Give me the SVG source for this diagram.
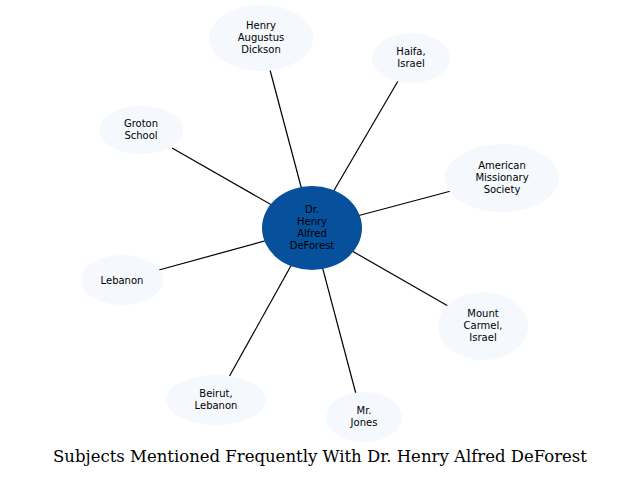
<svg xmlns="http://www.w3.org/2000/svg" width="641" height="478" viewBox="0 0 641 478">
<style>
.n{fill:#f5f8fd}
.t{font-family:"DejaVu Sans",sans-serif;font-size:10px;fill:#000;text-anchor:middle}
.e line{stroke:#000;stroke-width:1.2}
</style>
<rect width="641" height="478" fill="#fff"/>
<g class="e" id="connectors">
<line x1="312" y1="228" x2="270" y2="70"/>
<line x1="312" y1="228" x2="398" y2="81"/>
<line x1="312" y1="228" x2="172" y2="148"/>
<line x1="312" y1="228" x2="451" y2="191"/>
<line x1="312" y1="228" x2="159" y2="270"/>
<line x1="312" y1="228" x2="448" y2="306"/>
<line x1="312" y1="228" x2="229" y2="377"/>
<line x1="312" y1="228" x2="356" y2="394"/>
</g>
<g id="center"><ellipse cx="312" cy="228" rx="50" ry="42" fill="#06509c"/>
<text class="t" x="312" y="213">Dr.</text><text class="t" x="312" y="225">Henry</text><text class="t" x="312" y="237">Alfred</text><text class="t" x="312" y="249">DeForest</text></g>
<g id="dickson"><ellipse class="n" cx="261" cy="38" rx="52" ry="33"/>
<text class="t" x="261" y="29">Henry</text><text class="t" x="261" y="41">Augustus</text><text class="t" x="261" y="53">Dickson</text></g>
<g id="haifa"><ellipse class="n" cx="411" cy="58" rx="39" ry="25"/>
<text class="t" x="411" y="55">Haifa,</text><text class="t" x="411" y="67">Israel</text></g>
<g id="groton"><ellipse class="n" cx="141" cy="130" rx="42" ry="24"/>
<text class="t" x="141" y="127">Groton</text><text class="t" x="141" y="139">School</text></g>
<g id="ams"><ellipse class="n" cx="502" cy="178" rx="57" ry="34"/>
<text class="t" x="502" y="169">American</text><text class="t" x="502" y="181">Missionary</text><text class="t" x="502" y="193">Society</text></g>
<g id="lebanon"><ellipse class="n" cx="122" cy="280" rx="41" ry="25"/>
<text class="t" x="122" y="284">Lebanon</text></g>
<g id="carmel"><ellipse class="n" cx="483" cy="326" rx="45" ry="34"/>
<text class="t" x="483" y="317">Mount</text><text class="t" x="483" y="329">Carmel,</text><text class="t" x="483" y="341">Israel</text></g>
<g id="beirut"><ellipse class="n" cx="216" cy="400" rx="50" ry="25"/>
<text class="t" x="216" y="397">Beirut,</text><text class="t" x="216" y="409">Lebanon</text></g>
<g id="jones"><ellipse class="n" cx="364" cy="417" rx="38" ry="25"/>
<text class="t" x="364" y="414">Mr.</text><text class="t" x="364" y="426">Jones</text></g>
<text x="320" y="462" style="font-family:'DejaVu Serif',serif;font-size:16.5px;text-anchor:middle">Subjects Mentioned Frequently With Dr. Henry Alfred DeForest</text>
</svg>
